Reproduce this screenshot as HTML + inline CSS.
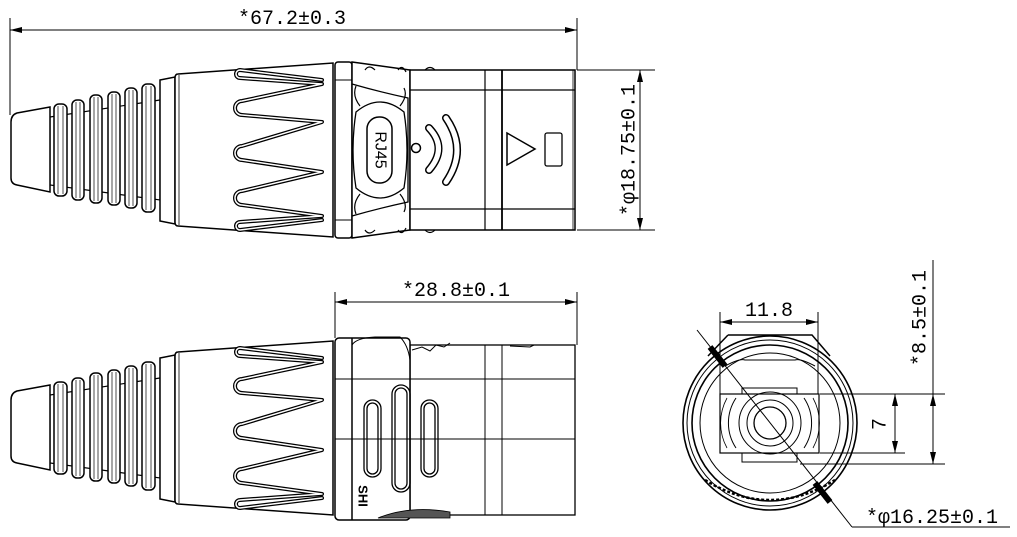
<!DOCTYPE html>
<html><head><meta charset="utf-8"><style>
html,body{margin:0;padding:0;background:#fff;}
svg{display:block;}
text{font-family:"Liberation Mono","Noto Sans CJK SC",monospace;fill:#000;}
</style></head><body>
<svg width="1017" height="537" viewBox="0 0 1017 537" xmlns="http://www.w3.org/2000/svg">
<defs>
<marker id="ar" viewBox="0 0 12 6" refX="12" refY="3" markerWidth="12" markerHeight="6" orient="auto-start-reverse" markerUnits="userSpaceOnUse"><path d="M0,0 L12,3 L0,6 Z" fill="#000"/></marker>
<g id="boot">
  <path d="M50,117 L160,100 L160,200 L50,185 Z" fill="none" stroke="#000" stroke-width="1.2"/>
  <path d="M50,107 L17,113 Q11,115 11,122 L11,178 Q11,184 17,185 L50,192 Z" fill="#fff" stroke="#000" stroke-width="1.5"/>
  <rect x="54" y="104" width="13" height="92" rx="5" fill="#fff" stroke="#000" stroke-width="1.5"/>
  <rect x="72" y="100" width="12" height="100" rx="5" fill="#fff" stroke="#000" stroke-width="1.5"/>
  <rect x="90" y="95" width="12" height="108" rx="5" fill="#fff" stroke="#000" stroke-width="1.5"/>
  <rect x="108" y="92" width="12" height="113" rx="5" fill="#fff" stroke="#000" stroke-width="1.5"/>
  <rect x="125" y="88" width="12" height="120" rx="5" fill="#fff" stroke="#000" stroke-width="1.5"/>
  <rect x="142" y="84" width="13" height="128" rx="5" fill="#fff" stroke="#000" stroke-width="1.5"/>
  <g stroke="#000" stroke-width="0.7">
    <line x1="58" y1="106" x2="58" y2="194"/><line x1="63" y1="106" x2="63" y2="194"/>
    <line x1="76" y1="102" x2="76" y2="198"/><line x1="80" y1="102" x2="80" y2="198"/>
    <line x1="94" y1="97" x2="94" y2="201"/><line x1="98" y1="97" x2="98" y2="201"/>
    <line x1="112" y1="94" x2="112" y2="203"/><line x1="116" y1="94" x2="116" y2="203"/>
    <line x1="129" y1="90" x2="129" y2="206"/><line x1="133" y1="90" x2="133" y2="206"/>
    <line x1="146" y1="86" x2="146" y2="210"/><line x1="151" y1="86" x2="151" y2="210"/>
  </g>
  <path d="M160,80 L175,77 L175,224 L160,221 Z" fill="#fff" stroke="#000" stroke-width="1.5"/>
  <path d="M178,74 L333,63 L333,237 L178,226 Q175,226 175,222 L175,78 Q175,74 178,74 Z" fill="#fff" stroke="#000" stroke-width="1.5"/>
  <line x1="179" y1="75" x2="179" y2="225" stroke="#000" stroke-width="0.8"/>
  <g fill="none" stroke-linejoin="round" stroke-linecap="round">
    <path id="zz" d="M322,80 L240,70 A4,4 0 0 0 240,78 L322,84 L242,101 A7,7 0 0 0 242,115 L322,122 L242,146 A7,7 0 0 0 242,160 L322,172 L242,191 A7,7 0 0 0 242,205 L322,216 L240,222 A4,4 0 0 0 240,230 L322,220" stroke="#000" stroke-width="4"/>
    <path d="M322,80 L240,70 A4,4 0 0 0 240,78 L322,84 L242,101 A7,7 0 0 0 242,115 L322,122 L242,146 A7,7 0 0 0 242,160 L322,172 L242,191 A7,7 0 0 0 242,205 L322,216 L240,222 A4,4 0 0 0 240,230 L322,220" stroke="#fff" stroke-width="1.5"/>
  </g>
</g>
</defs>

<!-- TOP VIEW -->
<line x1="10" y1="18" x2="10" y2="115" stroke="#000" stroke-width="1"/>
<line x1="577" y1="18" x2="577" y2="70" stroke="#000" stroke-width="1"/>
<line x1="10" y1="30" x2="577" y2="30" stroke="#000" stroke-width="1" marker-start="url(#ar)" marker-end="url(#ar)"/>
<text x="292" y="24" font-size="20" text-anchor="middle">*67.2±0.3</text>

<use href="#boot"/>
<rect x="335" y="62" width="17" height="176" rx="3" fill="#fff" stroke="#000" stroke-width="1.5"/>
<line x1="335" y1="80" x2="352" y2="80" stroke="#000" stroke-width="1"/>
<line x1="335" y1="220" x2="352" y2="220" stroke="#000" stroke-width="1"/>
<path d="M352,62 L410,70 L410,230 L352,238 Z" fill="#fff" stroke="#000" stroke-width="1.5"/>
<path d="M352,84 Q380,92 408,98 L408,202 Q380,208 352,216" fill="none" stroke="#000" stroke-width="1.3"/>
<path d="M356,112 Q380,92 404,112 Q410,150 404,188 Q380,208 356,188 Q350,150 356,112 Z" fill="none" stroke="#000" stroke-width="1.3"/>
<path d="M360,106 Q352,96 356,86 M400,106 Q408,96 404,88 M360,194 Q352,204 356,214 M400,194 Q408,204 404,212" fill="none" stroke="#000" stroke-width="1.2"/>
<rect x="367" y="117" width="25" height="66" rx="12" fill="none" stroke="#000" stroke-width="1.5"/>
<text x="379.5" y="150" font-size="16" text-anchor="middle" dominant-baseline="middle" transform="rotate(90 379.5 150)" style="font-family:'Liberation Sans',sans-serif;">RJ45</text>
<path d="M365,70 q4,-6 10,0 M398,70 q4,-6 8,2 M365,230 q4,6 10,0 M398,230 q4,6 8,-2" fill="none" stroke="#000" stroke-width="1.2"/>
<rect x="410" y="70" width="165" height="160" fill="#fff" stroke="#000" stroke-width="1.5"/>
<line x1="410" y1="90" x2="575" y2="90" stroke="#000" stroke-width="1.2"/>
<line x1="410" y1="209" x2="575" y2="209" stroke="#000" stroke-width="1.2"/>
<line x1="485" y1="70" x2="485" y2="230" stroke="#000" stroke-width="1.2"/>
<line x1="502" y1="70" x2="502" y2="230" stroke="#000" stroke-width="1.8"/>
<line x1="573" y1="70" x2="573" y2="230" stroke="#000" stroke-width="0.8"/>
<path d="M425,70 q5,-5 10,0 M425,230 q5,5 10,0" fill="none" stroke="#000" stroke-width="1.2"/>
<circle cx="416" cy="148" r="4.5" fill="none" stroke="#000" stroke-width="1.5"/>
<g fill="none" stroke-linecap="round">
  <path d="M429,128 Q448,148 429,170" stroke="#000" stroke-width="8"/>
  <path d="M429,128 Q448,148 429,170" stroke="#fff" stroke-width="5"/>
  <path d="M446,118 Q468,150 446,182" stroke="#000" stroke-width="8"/>
  <path d="M446,118 Q468,150 446,182" stroke="#fff" stroke-width="5"/>
</g>
<path d="M507,133 L507,165 L535,149 Z" fill="none" stroke="#000" stroke-width="1.5"/>
<rect x="545" y="133" width="17" height="33" rx="2" fill="none" stroke="#000" stroke-width="1.3"/>
<line x1="577" y1="70" x2="655" y2="70" stroke="#000" stroke-width="1"/>
<line x1="577" y1="230" x2="655" y2="230" stroke="#000" stroke-width="1"/>
<line x1="640" y1="70" x2="640" y2="230" stroke="#000" stroke-width="1" marker-start="url(#ar)" marker-end="url(#ar)"/>
<text x="629" y="150" font-size="20" text-anchor="middle" dominant-baseline="middle" transform="rotate(-90 629 150)">*φ18.75±0.1</text>

<!-- BOTTOM VIEW -->
<line x1="335" y1="292" x2="335" y2="338" stroke="#000" stroke-width="1"/>
<line x1="577" y1="292" x2="577" y2="345" stroke="#000" stroke-width="1"/>
<line x1="335" y1="302" x2="577" y2="302" stroke="#000" stroke-width="1" marker-start="url(#ar)" marker-end="url(#ar)"/>
<text x="456" y="296" font-size="20" text-anchor="middle">*28.8±0.1</text>

<use href="#boot" transform="translate(0,278)"/>
<rect x="410" y="345" width="165" height="170" fill="#fff" stroke="#000" stroke-width="1.3"/>
<rect x="335" y="338" width="75" height="182" rx="4" fill="#fff" stroke="#000" stroke-width="1.5"/>
<line x1="352" y1="338" x2="352" y2="520" stroke="#000" stroke-width="1.5"/>
<path d="M352,345 Q356,338 375,337 L400,337 Q408,345 410,360" fill="none" stroke="#000" stroke-width="1"/>
<line x1="335" y1="379" x2="575" y2="379" stroke="#000" stroke-width="1"/>
<line x1="335" y1="439" x2="575" y2="439" stroke="#000" stroke-width="1"/>
<line x1="485" y1="345" x2="485" y2="515" stroke="#000" stroke-width="1"/>
<line x1="502" y1="345" x2="502" y2="515" stroke="#000" stroke-width="1"/>
<path d="M412,350 l10,-3 8,4 6,-6 8,2 6,-4 M510,346 l20,1 l4,-2" fill="none" stroke="#000" stroke-width="1"/>
<g fill="none" stroke="#000" stroke-width="1.3">
  <rect x="364" y="400" width="17" height="77" rx="8.5"/>
  <rect x="367" y="403" width="11" height="71" rx="5.5"/>
  <rect x="392" y="385" width="18" height="107" rx="9"/>
  <rect x="395" y="388" width="12" height="101" rx="6"/>
  <rect x="421" y="400" width="17" height="77" rx="8.5"/>
  <rect x="424" y="403" width="11" height="71" rx="5.5"/>
</g>
<text x="362" y="496" font-size="13" font-weight="bold" text-anchor="middle" dominant-baseline="middle" transform="rotate(90 362 496)" style="font-family:'Liberation Sans',sans-serif;">SHI</text>
<path d="M378,518 Q410,505 450,512 L450,518 Z" fill="#555" stroke="#000" stroke-width="0.8"/>

<!-- END VIEW -->
<g fill="none" stroke="#000">
  <circle cx="770" cy="423" r="87" stroke-width="1.6"/>
  <circle cx="770" cy="423" r="83" stroke-width="1"/>
  <circle cx="770" cy="423" r="78" stroke-width="1.6"/>
  <circle cx="770" cy="423" r="70" stroke-width="1"/>
  <path d="M728,335 L812,335 L830,356 M728,335 L708,356" stroke-width="1.5"/>
  <path d="M725,366 Q740,358 745,360 L795,360 Q800,358 815,366" stroke-width="1"/>
  <rect x="720" y="394" width="99" height="59" stroke-width="1.2" fill="#fff"/>
  <rect x="742" y="388" width="55" height="6" stroke-width="1"/>
  <rect x="742" y="453" width="55" height="9" stroke-width="1"/>
  <circle cx="770" cy="423" r="16" stroke-width="1.3"/>
  <circle cx="770" cy="423" r="23" stroke-width="1"/>
  <circle cx="770" cy="423" r="31" stroke-width="1"/>
  <path d="M736,398 A45,45 0 0 0 736,448 M804,398 A45,45 0 0 1 804,448" stroke-width="1"/>
  <path d="M727,398 A52,52 0 0 0 727,448 M813,398 A52,52 0 0 1 813,448" stroke-width="0.8"/>
</g>
<path d="M705,480 Q770,520 835,480" fill="none" stroke="#000" stroke-width="2.5" stroke-dasharray="3 2"/>
<line x1="720" y1="312" x2="720" y2="394" stroke="#000" stroke-width="1"/>
<line x1="818" y1="312" x2="818" y2="394" stroke="#000" stroke-width="1"/>
<line x1="720" y1="322" x2="818" y2="322" stroke="#000" stroke-width="1" marker-start="url(#ar)" marker-end="url(#ar)"/>
<text x="769" y="316" font-size="20" text-anchor="middle">11.8</text>
<line x1="820" y1="394" x2="905" y2="394" stroke="#000" stroke-width="1"/>
<line x1="820" y1="453" x2="905" y2="453" stroke="#000" stroke-width="1"/>
<line x1="895" y1="394" x2="895" y2="453" stroke="#000" stroke-width="1" marker-start="url(#ar)" marker-end="url(#ar)"/>
<text x="880" y="424" font-size="20" text-anchor="middle" dominant-baseline="middle" transform="rotate(-90 880 424)">7</text>
<line x1="905" y1="394" x2="945" y2="394" stroke="#000" stroke-width="1"/>
<line x1="800" y1="464" x2="945" y2="464" stroke="#000" stroke-width="1"/>
<line x1="933" y1="260" x2="933" y2="394" stroke="#000" stroke-width="1"/>
<line x1="933" y1="394" x2="933" y2="464" stroke="#000" stroke-width="1" marker-start="url(#ar)" marker-end="url(#ar)"/>
<text x="920" y="318" font-size="20" text-anchor="middle" dominant-baseline="middle" transform="rotate(-90 920 318)">*8.5±0.1</text>
<line x1="697" y1="330" x2="852" y2="527" stroke="#000" stroke-width="1"/>
<line x1="852" y1="527" x2="1010" y2="527" stroke="#000" stroke-width="1"/>
<path d="M710,347 L725,366" stroke="#000" stroke-width="6"/>
<path d="M815,483 L830,502" stroke="#000" stroke-width="6"/>
<text x="932" y="523" font-size="20" text-anchor="middle">*φ16.25±0.1</text>
</svg>
</body></html>
